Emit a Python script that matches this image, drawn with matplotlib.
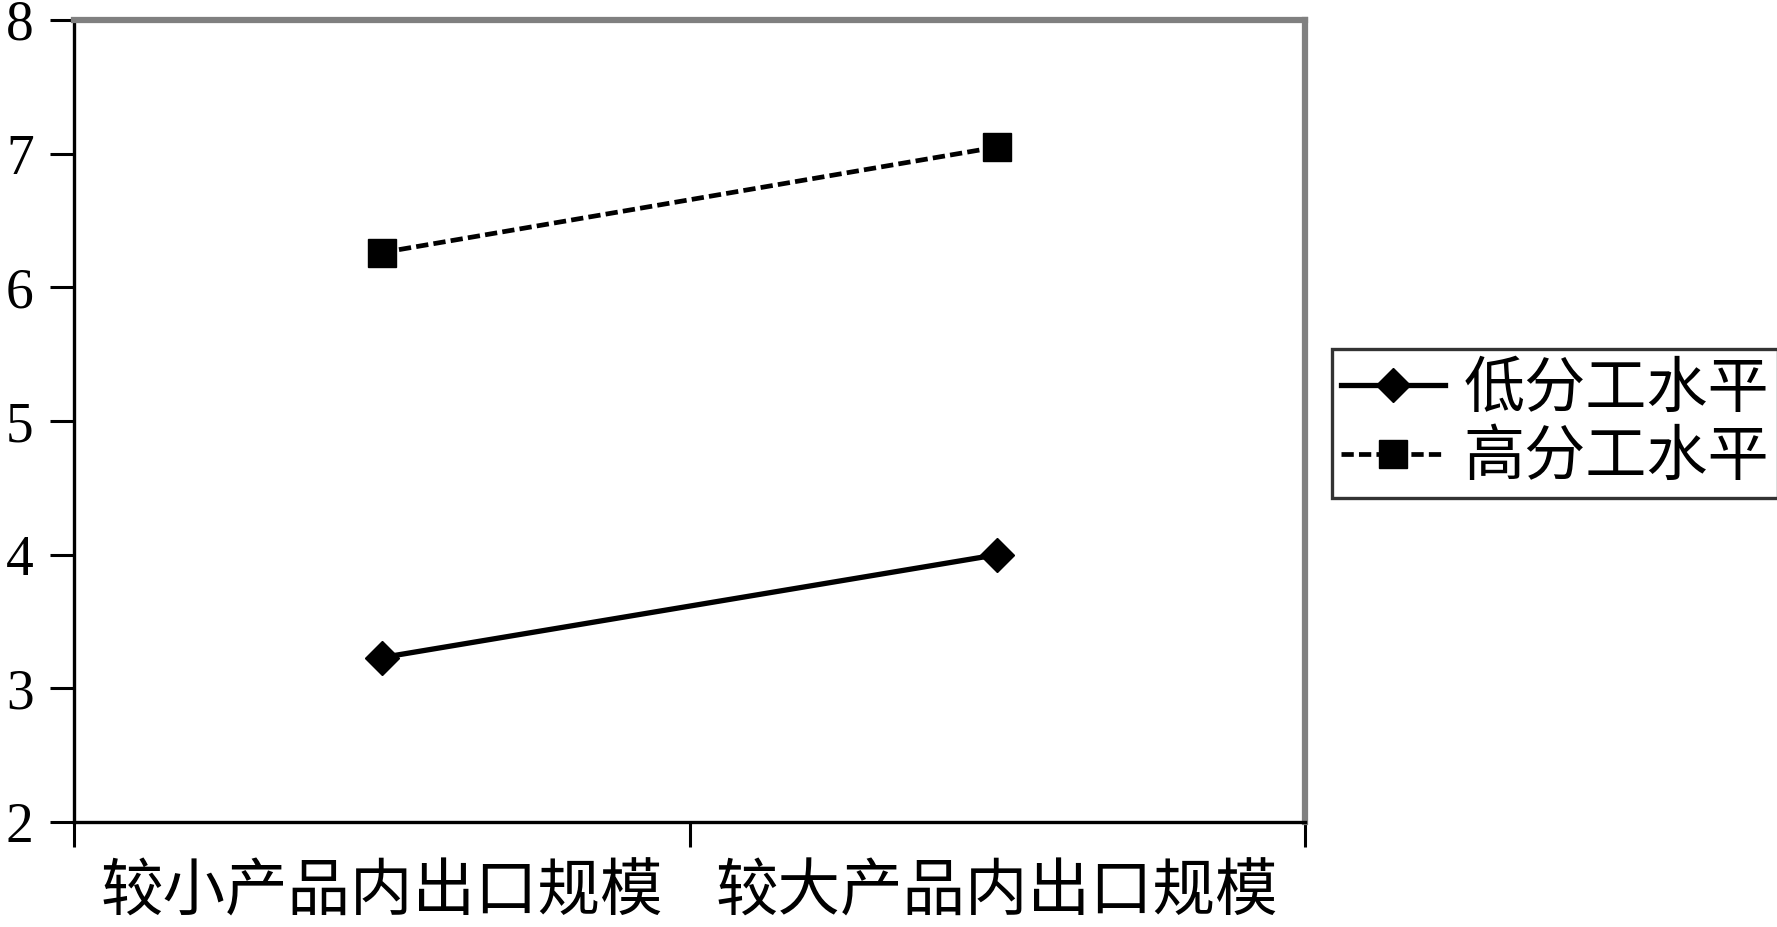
import matplotlib.pyplot as plt
from matplotlib.ticker import FixedLocator, NullFormatter

plt.rcParams['font.family'] = ['Noto Sans CJK SC', 'DejaVu Sans']

categories = ['较小产品内出口规模', '较大产品内出口规模']
low_values = [3.23, 4.00]
high_values = [6.26, 7.05]
series_names = ['低分工水平', '高分工水平']
y_ticks = [2, 3, 4, 5, 6, 7, 8]

fig = plt.figure(figsize=(17.77, 9.27), dpi=100)
ax = fig.add_axes([74 / 1777, 1 - 822 / 927, 1231 / 1777, 802 / 927])

x = list(range(len(categories)))
ax.plot(x, low_values, '-', color='black', linewidth=3.8,
        marker='D', markersize=17, label=series_names[0])
ax.plot(x, high_values, color='black', linewidth=3.4, linestyle=(0, (2.6, 1.1)),
        marker='s', markersize=20, label=series_names[1])

ax.set_xlim(-0.5, 1.5)
ax.set_ylim(2, 8)

# y axis
ax.set_yticks(y_ticks)
ax.set_yticklabels([str(v) for v in y_ticks], family='Liberation Serif', fontsize=40)
ax.tick_params(axis='y', direction='out', length=17, width=2.2, pad=12)

# x axis: ticks at category boundaries, labels centered
ax.xaxis.set_major_locator(FixedLocator([-0.5, 0.5, 1.5]))
ax.xaxis.set_major_formatter(NullFormatter())
ax.xaxis.set_minor_locator(FixedLocator(x))
ax.set_xticklabels(categories, minor=True, fontsize=45, fontweight='light')
ax.tick_params(axis='x', which='major', direction='out', length=18, width=2.2)
ax.tick_params(axis='x', which='minor', length=0, pad=28)

for side in ['left', 'bottom']:
    ax.spines[side].set_color('black')
    ax.spines[side].set_linewidth(2.4)
for side in ['top', 'right']:
    ax.spines[side].set_color('#808080')
    ax.spines[side].set_linewidth(4.5)

leg = fig.legend(loc='center left', bbox_to_anchor=(1332 / 1777, 1 - 423.5 / 927),
                 fontsize=44, frameon=True, fancybox=False, handlelength=1.7,
                 handletextpad=0.3, borderpad=0.15, labelspacing=0.1,
                 borderaxespad=0)
leg.get_frame().set_edgecolor('black')
leg.get_frame().set_linewidth(2.4)
for t in leg.get_texts():
    t.set_fontweight('light')

fig.savefig('out.png', dpi=100)
